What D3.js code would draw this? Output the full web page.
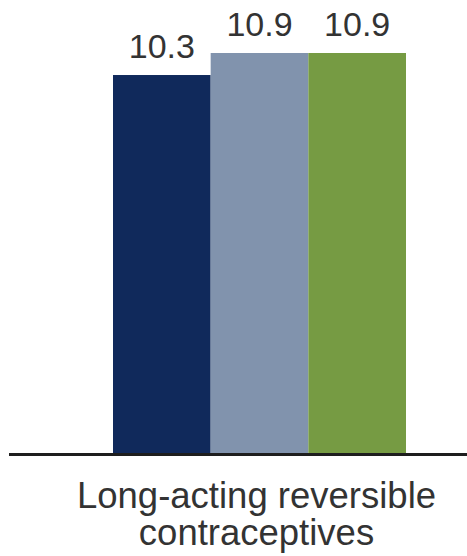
<!DOCTYPE html>
<html>
<head>
<meta charset="utf-8">
<script src="https://cdn.jsdelivr.net/npm/d3@7"></script>
<style>
  html, body { margin: 0; padding: 0; background: #fff; }
  svg { display: block; }
</style>
</head>
<body>
<svg id="chart" width="467" height="556"></svg>
<script>
// Data
const categoryLines = ["Long-acting reversible", "contraceptives"];
const series = ["Series A", "Series B", "Series C"];
const values = [10.3, 10.9, 10.9];
const colors = ["#10295b", "#8193ad", "#769b43"];

const svg = d3.select("#chart");
const W = 467;

const baseY = 453;
const x = d3.scaleBand().domain(series).range([113, 406]).padding(0);
const y = d3.scaleLinear().domain([0, 10.9]).range([baseY, 53]);

const font = "'Liberation Sans', Arial, sans-serif";

// Bars
svg.selectAll("rect.bar")
  .data(values)
  .join("rect")
  .attr("class", "bar")
  .attr("x", (d, i) => x(series[i]))
  .attr("width", x.bandwidth())
  .attr("y", d => y(d))
  .attr("height", d => baseY - y(d))
  .attr("fill", (d, i) => colors[i]);

// Value labels
svg.selectAll("text.val")
  .data(values)
  .join("text")
  .attr("class", "val")
  .attr("x", (d, i) => x(series[i]) + x.bandwidth() / 2)
  .attr("y", d => y(d) - 17)
  .attr("text-anchor", "middle")
  .attr("font-family", font)
  .attr("font-size", 34)
  .attr("fill", "#333")
  .text(d => d.toFixed(1));

// Baseline
svg.append("line")
  .attr("x1", 9).attr("x2", W)
  .attr("y1", baseY + 1.5).attr("y2", baseY + 1.5)
  .attr("stroke", "#1e1e1e")
  .attr("stroke-width", 3);

// Category label
const cx = (x.range()[0] + x.range()[1]) / 2 - 3;
svg.selectAll("text.cat")
  .data(categoryLines)
  .join("text")
  .attr("class", "cat")
  .attr("x", cx)
  .attr("y", (d, i) => 508 + i * 37)
  .attr("text-anchor", "middle")
  .attr("font-family", font)
  .attr("font-size", 36.5)
  .attr("fill", "#333")
  .text(d => d);
</script>
</body>
</html>
